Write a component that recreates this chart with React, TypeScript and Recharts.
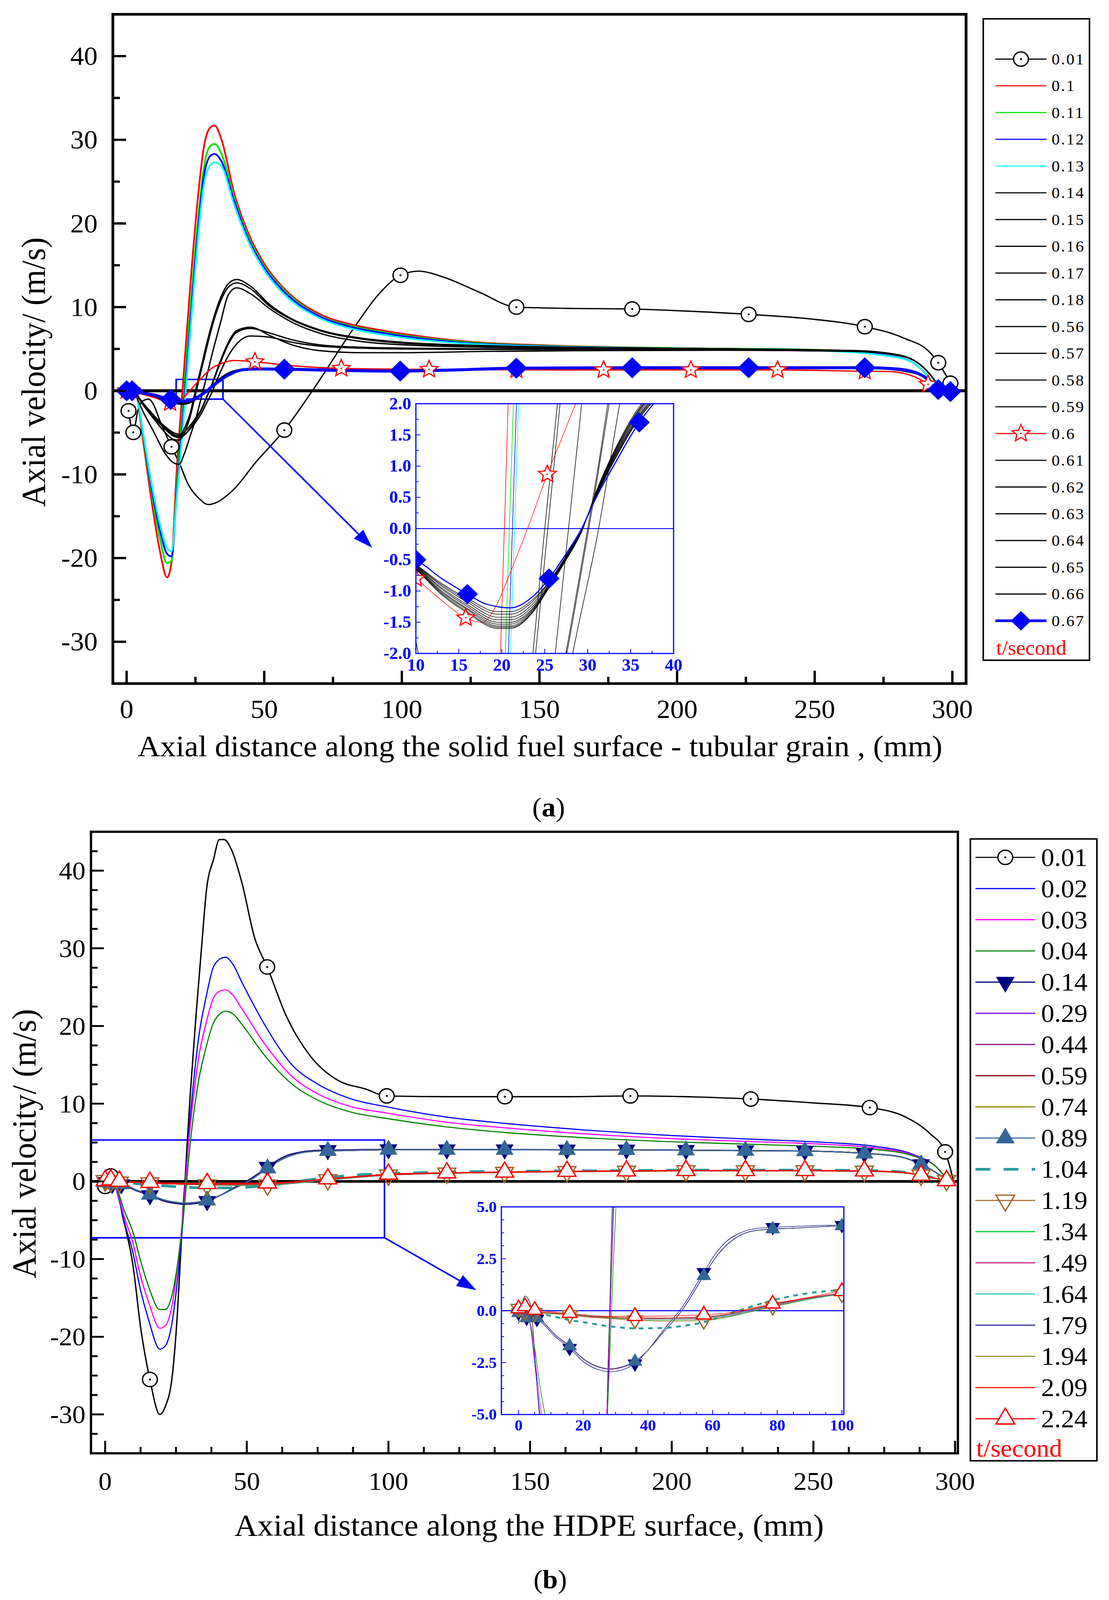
import React from "react";
import { LineChart, Line, XAxis, YAxis, ReferenceLine, ReferenceArea } from "recharts";

const SERIF = '"Liberation Serif", "Times New Roman", serif';
const BLUE = "#0000ff";

// ---------- panel (a): tubular grain ----------
const aX001 = [0.7, 2.45, 4, 6, 8, 10, 12, 16.3, 19.1, 22.4, 26.4, 29.7, 38.6, 46.8, 57.3, 67.5, 83.4, 91.5, 99.5, 106, 115, 128, 141.6, 160, 183.7, 205, 226, 248, 268.2, 282.4, 291.8, 294.9, 299.3];
const aY001 = [-2.4, -4.97, -2.5, -1.2, -1.0, -1.8, -3.5, -6.7, -8.6, -11.2, -12.9, -13.6, -11.9, -8.6, -4.7, 0, 7.9, 11.5, 13.8, 14.3, 13.6, 11.8, 10.0, 9.85, 9.77, 9.5, 9.13, 8.6, 7.66, 6.3, 4.6, 3.35, 0.9];
const aM001 = [0, 1, 7, 14, 18, 22, 24, 26, 28, 31, 32];

const aXE = [0, 2, 3.5, 6, 9, 12, 14.7, 16.3, 18.3, 20.3, 23, 26, 28, 30.5, 32, 34.5, 39, 44, 50, 57, 70, 82, 95, 120, 155, 200, 250, 277, 286, 291, 294, 296];
const aY010 = [0, 0, -0.5, -6, -13, -19, -22.3, -20.5, -9, 0, 12, 23.4, 29, 31.5, 31.7, 30, 23.7, 19, 15.2, 12.3, 9.2, 7.9, 7.1, 6.0, 5.4, 5.1, 4.9, 4.2, 3.3, 1.8, 0.6, 0];
const aY011 = [0, 0, -0.5, -5.5, -12, -17.5, -20.6, -20.3, -11, -2.5, 9, 20.5, 26.5, 29.3, 29.5, 28.3, 23.2, 18.6, 14.9, 12.1, 9.0, 7.7, 6.9, 5.9, 5.35, 5.1, 4.9, 4.2, 3.3, 1.8, 0.6, 0];
const aY012 = [0, 0, -0.5, -5.2, -11.5, -16.5, -19.5, -19.8, -12, -4, 7.5, 19.5, 25.5, 28.1, 28.3, 27.4, 22.8, 18.3, 14.7, 11.9, 8.9, 7.6, 6.8, 5.8, 5.3, 5.05, 4.85, 4.2, 3.3, 1.8, 0.6, 0];
const aY013 = [0, 0, -0.5, -5, -11, -15.8, -18.8, -19.2, -12.5, -5, 6.5, 18.5, 24.5, 27, 27.3, 26.8, 22.3, 18, 14.4, 11.6, 8.7, 7.4, 6.6, 5.7, 5.25, 5.0, 4.8, 4.15, 3.3, 1.8, 0.6, 0];

const aXM = [0, 3, 6, 10, 14, 17, 19, 21, 23, 25, 27, 29, 31, 34, 37, 40, 45, 52, 60, 70, 85, 100, 130, 170, 220, 265, 280, 288, 293, 296];
const aY014 = [0, -0.3, -1.5, -3, -4.5, -5.3, -5.5, -4.5, -2.8, 0, 2.7, 5.5, 8, 11, 12.8, 13.3, 12.5, 10.3, 8.6, 7.3, 6.3, 5.8, 5.4, 5.15, 5.0, 4.8, 4.3, 3.2, 1.5, 0];
const aY015 = [0, -0.3, -1.7, -3.4, -5, -5.8, -5.9, -5.0, -3.2, -0.5, 2.3, 5, 7.6, 10.6, 12.4, 12.9, 12.2, 10.1, 8.5, 7.2, 6.2, 5.7, 5.35, 5.1, 4.95, 4.75, 4.3, 3.2, 1.5, 0];
const aY016 = [0, -0.5, -2.5, -5, -7.5, -8.6, -8.8, -7.5, -5.5, -3.5, -1, 1.6, 4.3, 8, 11.5, 12.3, 11.6, 9.8, 8.2, 6.9, 5.9, 5.5, 5.2, 5.05, 4.9, 4.7, 4.25, 3.2, 1.5, 0];
const aY017 = [0, -0.3, -1.5, -3, -4.3, -5, -5.2, -4.9, -4.2, -3.3, -2.3, -0.8, 0.8, 3.5, 5.8, 7.2, 7.6, 6.6, 5.5, 4.8, 4.55, 4.55, 4.7, 4.8, 4.85, 4.7, 4.3, 3.2, 1.5, 0];
const aY018 = [0, -0.3, -1.6, -3.2, -4.6, -5.4, -5.6, -5.3, -4.5, -3.5, -2.4, -0.9, 0.7, 3.3, 5.6, 7.0, 7.45, 6.9, 6.1, 5.5, 5.2, 5.1, 5.0, 4.95, 4.9, 4.75, 4.3, 3.2, 1.5, 0];
const aY056 = [0, -0.3, -1.5, -3, -4.4, -5.2, -5.4, -5.2, -4.6, -3.8, -2.8, -1.5, -0.2, 2.2, 4.2, 5.6, 6.55, 6.4, 5.8, 5.35, 5.1, 5.0, 4.95, 4.9, 4.85, 4.7, 4.3, 3.2, 1.5, 0];

const aXL = [0, 2, 6, 10, 13, 16, 19.5, 21, 23.5, 25.5, 27.5, 29.3, 31, 33, 36, 40, 47, 60, 100, 150, 200, 268, 288, 295, 299];
const aY057 = [0, 0, -0.3, -0.58, -0.88, -1.12, -1.33, -1.33, -1.15, -0.85, -0.43, 0, 0.52, 1.06, 1.76, 2.3, 2.62, 2.62, 2.4, 2.72, 2.76, 2.74, 2.0, 0.2, 0];
const aY058 = [0, 0, -0.3, -0.59, -0.9, -1.15, -1.37, -1.37, -1.18, -0.86, -0.44, 0, 0.53, 1.08, 1.78, 2.32, 2.62, 2.62, 2.4, 2.72, 2.76, 2.74, 2.0, 0.2, 0];
const aY059 = [0, 0, -0.31, -0.6, -0.92, -1.18, -1.42, -1.42, -1.22, -0.88, -0.45, 0, 0.54, 1.1, 1.8, 2.34, 2.63, 2.62, 2.4, 2.72, 2.76, 2.74, 2.0, 0.2, 0];
const aY061 = [0, 0, -0.31, -0.61, -0.95, -1.22, -1.46, -1.46, -1.26, -0.9, -0.46, -0.01, 0.55, 1.12, 1.82, 2.36, 2.63, 2.62, 2.4, 2.72, 2.76, 2.74, 2.0, 0.2, 0];
const aY062 = [0, 0, -0.32, -0.62, -0.97, -1.25, -1.5, -1.5, -1.29, -0.91, -0.47, -0.02, 0.56, 1.14, 1.85, 2.38, 2.64, 2.62, 2.4, 2.72, 2.76, 2.74, 2.0, 0.2, 0];
const aY063 = [0, 0, -0.32, -0.63, -1.0, -1.28, -1.53, -1.53, -1.31, -0.92, -0.48, -0.03, 0.57, 1.16, 1.88, 2.4, 2.64, 2.62, 2.4, 2.72, 2.76, 2.74, 2.0, 0.2, 0];
const aY064 = [0, 0, -0.33, -0.64, -1.02, -1.3, -1.56, -1.56, -1.33, -0.93, -0.49, -0.04, 0.58, 1.18, 1.9, 2.42, 2.65, 2.62, 2.4, 2.72, 2.76, 2.74, 2.0, 0.2, 0];
const aY065 = [0, 0, -0.33, -0.65, -1.04, -1.33, -1.58, -1.58, -1.35, -0.94, -0.5, -0.05, 0.59, 1.2, 1.92, 2.44, 2.65, 2.62, 2.4, 2.72, 2.76, 2.74, 2.0, 0.2, 0];
const aY066 = [0, 0, -0.34, -0.66, -1.06, -1.35, -1.6, -1.6, -1.36, -0.95, -0.5, -0.05, 0.6, 1.22, 1.95, 2.46, 2.66, 2.62, 2.4, 2.72, 2.76, 2.74, 2.0, 0.2, 0];

const aX060 = [0, 1.7, 5, 10, 13, 15.8, 17.7, 19.3, 21, 23, 25.3, 27, 28.6, 31, 34, 38.9, 46.6, 60, 78, 109.9, 141.6, 173.3, 205, 236.5, 268.2, 277, 286.6, 291.2, 294, 298];
const aY060 = [0, 0, -0.35, -0.8, -1.15, -1.43, -1.5, -1.25, -0.7, 0, 0.87, 1.45, 2.0, 2.7, 3.2, 3.62, 3.46, 3.0, 2.67, 2.55, 2.5, 2.49, 2.49, 2.49, 2.33, 2.3, 1.63, 0.77, 0.1, 0];
const aM060 = [0, 1, 5, 16, 18, 19, 20, 21, 22, 23, 24, 27];
const aMi060 = [3, 5, 10];

const aX067 = [0, 2, 5, 8, 10, 13, 16, 18, 19.5, 21, 23.5, 25.5, 27.5, 29.3, 31, 33, 36, 38, 42, 47, 57.3, 75, 99.4, 120, 141.6, 183.7, 226, 268.2, 280, 288, 291, 294.9, 299.3];
const aY067 = [0, 0, -0.2, -0.4, -0.5, -0.8, -1.05, -1.2, -1.25, -1.27, -1.1, -0.8, -0.4, 0, 0.5, 1.0, 1.7, 2.05, 2.5, 2.6, 2.58, 2.45, 2.35, 2.5, 2.7, 2.75, 2.75, 2.75, 2.6, 2.0, 1.4, 0.15, -0.1];
const aM067 = [0, 1, 6, 20, 22, 24, 25, 26, 27, 31, 32];
const aMi067 = [4, 6, 11, 16];

const aXTicks = [0, 25, 50, 75, 100, 125, 150, 175, 200, 225, 250, 275, 300];
const aYTicks = [-30, -25, -20, -15, -10, -5, 0, 5, 10, 15, 20, 25, 30, 35, 40];
const aiXTicks = [10, 12.5, 15, 17.5, 20, 22.5, 25, 27.5, 30, 32.5, 35, 37.5, 40];
const aiYTicks = [-2, -1.75, -1.5, -1.25, -1, -0.75, -0.5, -0.25, 0, 0.25, 0.5, 0.75, 1, 1.25, 1.5, 1.75, 2];

// ---------- panel (b): HDPE ----------
const bX001 = [0, 2, 3.5, 5, 5.9, 7.5, 9.7, 12.6, 15.8, 19.3, 21.2, 23.7, 25.5, 27, 27.7, 28.2, 28.8, 30, 32, 34, 35.8, 38.3, 40.3, 42, 44.7, 48.3, 52.8, 57.2, 63.8, 72.5, 82.2, 91.8, 99.4, 120, 141.1, 163, 185.4, 205, 227.9, 250, 269.9, 283, 291, 296.5, 299.5];
const bY001 = [-0.65, 0.7, 0.4, -2, -4, -6.5, -10.5, -19, -25.5, -30, -29, -25, -17, -7, -2.5, 0, 4, 11, 21, 30, 37.6, 41.5, 44, 44, 42.6, 38.4, 31.3, 27.6, 21.4, 16.1, 13.0, 11.9, 11.0, 10.9, 10.9, 10.9, 11.0, 10.9, 10.6, 10.1, 9.5, 8.2, 6.2, 3.8, 0];
const bM001 = [0, 1, 8, 27, 32, 34, 36, 38, 40, 43];

const bXE = [0, 3, 5, 6.6, 9.7, 12.5, 15.4, 19.3, 21.2, 23.7, 26, 27.5, 28.4, 29.3, 31, 33, 35.8, 38, 40, 42.5, 45, 48.3, 56.1, 65.7, 75.4, 87, 99.4, 120.8, 141, 170, 200, 230, 255, 272, 285, 293, 297, 300];
const bY002 = [0, -0.3, -2.5, -5, -9, -14, -17.9, -21.6, -21.2, -18, -11, -5, 0, 5, 12, 18.5, 24, 27.4, 28.5, 28.85, 28, 25.6, 20.3, 15.1, 12.45, 10.6, 9.6, 8.26, 7.47, 6.6, 5.9, 5.4, 5.0, 4.5, 3.5, 2.0, 0.5, 0];
const bY003 = [0, -0.3, -2.2, -4.4, -7.8, -12.2, -15.6, -18.9, -18.6, -15.8, -9.5, -4.2, 0, 4.3, 10.3, 15.9, 20.6, 23.4, 24.4, 24.66, 24, 22.2, 17.8, 13.6, 11.2, 9.6, 8.8, 7.6, 6.9, 6.1, 5.5, 5.1, 4.75, 4.3, 3.4, 2.0, 0.5, 0];
const bY004 = [0, -0.3, -1.8, -3.6, -6.4, -10.2, -13.6, -16.5, -16.5, -14.5, -9.5, -5, -1.5, 2.2, 8, 13, 17.5, 20.2, 21.4, 21.9, 21.6, 20.2, 16.3, 12.6, 10.4, 8.9, 8.1, 7.0, 6.3, 5.6, 5.1, 4.75, 4.45, 4.1, 3.3, 2.0, 0.5, 0];

const bXM = [0, 2.5, 5.7, 8, 11, 15.8, 20, 24, 28.5, 32, 36, 40, 45, 50.5, 57.3, 60.7, 64, 68.6, 73, 78.6, 84.3, 92, 100, 120.6, 141, 163, 184, 205, 226, 247, 268, 280, 288, 293, 297, 300];
const bY014 = [-0.1, -0.35, -0.4, -0.7, -1.2, -1.8, -2.45, -2.8, -2.94, -2.85, -2.55, -1.9, -0.9, 0.15, 1.85, 2.7, 3.3, 3.75, 3.95, 4.02, 4.05, 4.1, 4.12, 4.1, 4.1, 4.08, 4.08, 4.03, 3.98, 3.92, 3.62, 3.22, 2.2, 1.2, 0.3, 0];
const bY029 = [-0.1, -0.35, -0.36, -0.62, -1.12, -1.72, -2.33, -2.68, -2.82, -2.73, -2.47, -1.91, -1.0, 0.02, 1.7, 2.52, 3.12, 3.64, 3.86, 3.94, 3.97, 4.04, 4.08, 4.07, 4.07, 4.05, 4.05, 4.0, 3.95, 3.9, 3.6, 3.2, 2.2, 1.2, 0.3, 0];
const bY044 = [-0.1, -0.35, -0.36, -0.61, -1.11, -1.71, -2.32, -2.67, -2.81, -2.72, -2.46, -1.9, -1.0, 0.01, 1.69, 2.51, 3.11, 3.64, 3.86, 3.94, 3.97, 4.03, 4.08, 4.07, 4.07, 4.05, 4.05, 4.0, 3.95, 3.9, 3.6, 3.2, 2.2, 1.2, 0.3, 0];
const bY059 = [-0.1, -0.35, -0.35, -0.6, -1.1, -1.7, -2.31, -2.66, -2.8, -2.71, -2.45, -1.9, -1.0, 0, 1.68, 2.5, 3.1, 3.63, 3.85, 3.93, 3.96, 4.03, 4.08, 4.07, 4.07, 4.05, 4.05, 4.0, 3.95, 3.9, 3.6, 3.2, 2.2, 1.2, 0.3, 0];
const bY074 = [-0.1, -0.35, -0.35, -0.6, -1.1, -1.7, -2.3, -2.65, -2.8, -2.7, -2.45, -1.9, -1.0, 0, 1.68, 2.5, 3.1, 3.63, 3.85, 3.93, 3.96, 4.03, 4.08, 4.07, 4.07, 4.05, 4.05, 4.0, 3.95, 3.9, 3.6, 3.2, 2.2, 1.2, 0.3, 0];
const bY089 = [-0.1, -0.35, -0.35, -0.6, -1.1, -1.7, -2.3, -2.65, -2.79, -2.7, -2.45, -1.9, -1.0, 0, 1.68, 2.5, 3.1, 3.63, 3.85, 3.93, 3.96, 4.03, 4.08, 4.07, 4.07, 4.05, 4.05, 4.0, 3.95, 3.9, 3.6, 3.2, 2.2, 1.2, 0.3, 0];
const bMM = [0, 1, 2, 5, 10, 14, 19, 22, 23, 24, 25, 26, 27, 28, 29, 30, 32];
const bMiM = [0, 1, 2, 5, 10, 14, 19, 22];

const bXL = [0, 2, 5, 10, 15.8, 20, 28, 36, 45, 50, 57.3, 65, 70, 78.6, 90, 100, 120.6, 141, 163, 184, 205, 226, 247, 268, 280, 288, 293, 297, 300];
const bY104 = [0, -0.05, -0.1, -0.25, -0.45, -0.55, -0.75, -0.85, -0.83, -0.75, -0.55, -0.15, 0.1, 0.5, 0.85, 1.0, 1.2, 1.3, 1.35, 1.4, 1.45, 1.45, 1.45, 1.4, 1.25, 0.85, 0.4, 0.1, 0];
const bY119 = [0.1, -0.05, -0.1, -0.15, -0.2, -0.28, -0.38, -0.45, -0.5, -0.5, -0.48, -0.3, -0.12, 0.2, 0.55, 0.8, 1.05, 1.15, 1.25, 1.3, 1.35, 1.35, 1.35, 1.3, 1.15, 0.8, 0.4, 0.1, 0];
const bY134 = [0.05, -0.05, -0.08, -0.13, -0.18, -0.25, -0.35, -0.42, -0.45, -0.45, -0.42, -0.28, -0.12, 0.18, 0.55, 0.8, 1.05, 1.16, 1.26, 1.31, 1.36, 1.36, 1.36, 1.31, 1.16, 0.8, 0.4, 0.1, 0];
const bY149 = [0.05, 0, -0.06, -0.11, -0.17, -0.23, -0.32, -0.38, -0.4, -0.4, -0.37, -0.24, -0.08, 0.22, 0.58, 0.82, 1.06, 1.17, 1.27, 1.32, 1.37, 1.37, 1.37, 1.32, 1.17, 0.8, 0.4, 0.1, 0];
const bY164 = [0.05, 0, -0.05, -0.1, -0.16, -0.22, -0.31, -0.36, -0.38, -0.37, -0.34, -0.21, -0.05, 0.25, 0.6, 0.83, 1.07, 1.18, 1.28, 1.33, 1.38, 1.38, 1.38, 1.33, 1.18, 0.8, 0.4, 0.1, 0];
const bY179 = [0.05, 0.02, -0.05, -0.1, -0.15, -0.21, -0.3, -0.35, -0.37, -0.35, -0.32, -0.18, -0.02, 0.27, 0.61, 0.84, 1.08, 1.18, 1.28, 1.33, 1.38, 1.38, 1.38, 1.33, 1.18, 0.8, 0.4, 0.1, 0];
const bY194 = [0.05, 0.03, -0.05, -0.1, -0.15, -0.21, -0.3, -0.34, -0.36, -0.34, -0.31, -0.17, 0, 0.29, 0.62, 0.85, 1.08, 1.19, 1.29, 1.34, 1.39, 1.39, 1.39, 1.34, 1.19, 0.8, 0.4, 0.1, 0];
const bY209 = [0.05, 0.05, -0.05, -0.1, -0.2, -0.28, -0.33, -0.35, -0.35, -0.33, -0.3, -0.15, 0.0, 0.3, 0.62, 0.85, 1.08, 1.18, 1.28, 1.33, 1.38, 1.38, 1.38, 1.33, 1.18, 0.8, 0.4, 0.1, 0];
const bY224 = [0.1, 0.2, 0.03, -0.05, -0.12, -0.2, -0.27, -0.27, -0.26, -0.24, -0.2, -0.1, 0.05, 0.33, 0.65, 0.93, 1.1, 1.2, 1.3, 1.35, 1.4, 1.4, 1.4, 1.35, 1.2, 0.8, 0.4, 0.1, 0];
const bML = [0, 1, 2, 4, 7, 10, 13, 15, 16, 17, 18, 19, 20, 21, 22, 23, 25, 27];
const bMiL = [0, 1, 2, 4, 7, 10, 13, 15];

const bXTicks = [0, 12.5, 25, 37.5, 50, 62.5, 75, 87.5, 100, 112.5, 125, 137.5, 150, 162.5, 175, 187.5, 200, 212.5, 225, 237.5, 250, 262.5, 275, 287.5, 300];
const bYTicks = [-32.5, -30, -27.5, -25, -22.5, -20, -17.5, -15, -12.5, -10, -7.5, -5, -2.5, 0, 2.5, 5, 7.5, 10, 12.5, 15, 17.5, 20, 22.5, 25, 27.5, 30, 32.5, 35, 37.5, 40, 42.5];
const biXTicks = [0, 5, 10, 15, 20, 25, 30, 35, 40, 45, 50, 55, 60, 65, 70, 75, 80, 85, 90, 95, 100];
const biYTicks = [-5, -4.375, -3.75, -3.125, -2.5, -1.875, -1.25, -0.625, 0, 0.625, 1.25, 1.875, 2.5, 3.125, 3.75, 4.375, 5];

// ---------- styling ----------
type Kind = "circle" | "star" | "diamond" | "triUp" | "triDown" | "triUpOpen" | "triDownOpen";
type Series = {
  name: string; xs: number[]; ys: number[]; color: string;
  w: number; iw: number; lw: number; dash?: string; idash?: string;
  kind?: Kind; ms?: number; ims?: number; ls?: number; marks?: number[]; imarks?: number[];
};

const blk = (name: string, xs: number[], ys: number[]): Series => ({ name, xs, ys, color: "#000", w: 3.5, iw: 1.5, lw: 3 });

const aSeries: Series[] = [
  { name: "0.01", xs: aX001, ys: aY001, color: "#000", w: 3.5, iw: 1.5, lw: 3, kind: "circle", ms: 19, ls: 19, marks: aM001 },
  { name: "0.1", xs: aXE, ys: aY010, color: "#ff0000", w: 4.5, iw: 1.5, lw: 3 },
  { name: "0.11", xs: aXE, ys: aY011, color: "#00e000", w: 4.5, iw: 1.5, lw: 3 },
  { name: "0.12", xs: aXE, ys: aY012, color: "#0000ff", w: 4.5, iw: 1.5, lw: 3 },
  { name: "0.13", xs: aXE, ys: aY013, color: "#00ffff", w: 4.5, iw: 1.5, lw: 3 },
  blk("0.14", aXM, aY014), blk("0.15", aXM, aY015), blk("0.16", aXM, aY016),
  blk("0.17", aXM, aY017), blk("0.18", aXM, aY018), blk("0.56", aXM, aY056),
  blk("0.57", aXL, aY057), blk("0.58", aXL, aY058), blk("0.59", aXL, aY059),
  { name: "0.6", xs: aX060, ys: aY060, color: "#ff0000", w: 3.5, iw: 1.4, lw: 3, kind: "star", ms: 24, ims: 24, ls: 24, marks: aM060, imarks: aMi060 },
  blk("0.61", aXL, aY061), blk("0.62", aXL, aY062), blk("0.63", aXL, aY063),
  blk("0.64", aXL, aY064), blk("0.65", aXL, aY065), blk("0.66", aXL, aY066),
  { name: "0.67", xs: aX067, ys: aY067, color: BLUE, w: 8, iw: 3, lw: 7, kind: "diamond", ms: 28, ims: 27, ls: 26, marks: aM067, imarks: aMi067 },
];

const thin = (name: string, xs: number[], ys: number[], color: string): Series => ({ name, xs, ys, color, w: 3, iw: 1.4, lw: 3 });

const bSeries: Series[] = [
  { name: "0.01", xs: bX001, ys: bY001, color: "#000", w: 3.5, iw: 1.4, lw: 3, kind: "circle", ms: 19, ls: 19, marks: bM001 },
  thin("0.02", bXE, bY002, "#0000ff"),
  thin("0.03", bXE, bY003, "#ff00ff"),
  thin("0.04", bXE, bY004, "#008000"),
  { name: "0.14", xs: bXM, ys: bY014, color: "#000080", w: 3, iw: 1.4, lw: 3, kind: "triDown", ms: 23, ims: 19, ls: 24, marks: bMM, imarks: bMiM },
  thin("0.29", bXM, bY029, "#8000ff"),
  thin("0.44", bXM, bY044, "#800080"),
  thin("0.59", bXM, bY059, "#800000"),
  thin("0.74", bXM, bY074, "#808000"),
  { name: "0.89", xs: bXM, ys: bY089, color: "#336699", w: 3, iw: 1.4, lw: 3, kind: "triUp", ms: 23, ims: 19, ls: 24, marks: bMM, imarks: bMiM },
  { name: "1.04", xs: bXL, ys: bY104, color: "#229c9c", w: 7, iw: 5, lw: 7, dash: "38 34", idash: "12 12" },
  { name: "1.19", xs: bXL, ys: bY119, color: "#a0682a", w: 3, iw: 1.4, lw: 3, kind: "triDownOpen", ms: 23, ims: 19, ls: 24, marks: bML, imarks: bMiL },
  thin("1.34", bXL, bY134, "#00cc33"),
  thin("1.49", bXL, bY149, "#cc2288"),
  thin("1.64", bXL, bY164, "#22c4c4"),
  thin("1.79", bXL, bY179, "#333399"),
  thin("1.94", bXL, bY194, "#999933"),
  thin("2.09", bXL, bY209, "#ff0000"),
  { name: "2.24", xs: bXL, ys: bY224, color: "#ff0000", w: 3, iw: 1.4, lw: 3, kind: "triUpOpen", ms: 23, ims: 19, ls: 24, marks: bML, imarks: bMiL },
];

// ---------- drawing helpers ----------
const pts = (xs: number[], ys: number[]) => xs.map((x, i) => ({ x, y: ys[i] }));

function Marker({ kind, cx, cy, s, color }: { kind: Kind; cx: number; cy: number; s: number; color: string }) {
  if (kind === "circle") {
    return (
      <g>
        <circle cx={cx} cy={cy} r={s} fill="#fff" stroke={color} strokeWidth={3.5} />
        <circle cx={cx} cy={cy} r={2.6} fill={color} />
      </g>
    );
  }
  if (kind === "diamond") {
    return <polygon points={`${cx},${cy - s} ${cx + s},${cy} ${cx},${cy + s} ${cx - s},${cy}`} fill={color} />;
  }
  if (kind === "star") {
    const p: string[] = [];
    for (let k = 0; k < 10; k++) {
      const r = k % 2 === 0 ? s : s * 0.45;
      const a = -Math.PI / 2 + (k * Math.PI) / 5;
      p.push(`${cx + r * Math.cos(a)},${cy + r * Math.sin(a)}`);
    }
    return (
      <g>
        <polygon points={p.join(" ")} fill="#fff" stroke={color} strokeWidth={3} />
        <circle cx={cx} cy={cy} r={2.2} fill={color} />
      </g>
    );
  }
  const h = s * 1.75;
  const up = kind === "triUp" || kind === "triUpOpen";
  const ay = up ? cy - (h * 2) / 3 : cy + (h * 2) / 3;
  const by = up ? cy + h / 3 : cy - h / 3;
  const open = kind === "triUpOpen" || kind === "triDownOpen";
  const fill = !open ? color : kind === "triUpOpen" ? "#fff" : "none";
  return <polygon points={`${cx},${ay} ${cx + s},${by} ${cx - s},${by}`} fill={fill} stroke={color} strokeWidth={open ? 3.5 : 0} />;
}

function seriesLines(list: Series[], inset: boolean) {
  return list.map((s) => {
    const marks = inset ? s.imarks : s.marks;
    const size = (inset ? s.ims : s.ms) ?? 20;
    const dot = s.kind && marks
      ? (p: any) =>
          marks.includes(p.index) && Number.isFinite(p.cx) && Number.isFinite(p.cy)
            ? <Marker key={`m${p.index}`} kind={s.kind as Kind} cx={p.cx} cy={p.cy} s={size} color={s.color} />
            : <g key={`m${p.index}`} />
      : false;
    return (
      <Line
        key={s.name}
        name={s.name}
        data={pts(s.xs, s.ys)}
        dataKey="y"
        type="monotone"
        stroke={s.color}
        strokeWidth={inset ? s.iw : s.w}
        strokeDasharray={inset ? s.idash : s.dash}
        dot={dot}
        activeDot={false}
        isAnimationActive={false}
      />
    );
  });
}

type TickStyle = { color: string; font: number; major: number; minor: number; sw: number; gap: number; step: number; digits: number; bold?: boolean };
const isMajor = (v: number, step: number) => Math.abs(v / step - Math.round(v / step)) < 1e-6;

const yTickFn = (st: TickStyle) => (p: any) => {
  const v = Number(p.payload.value);
  const M = isMajor(v, st.step);
  return (
    <g>
      <line x1={p.x} x2={p.x + (M ? st.major : st.minor)} y1={p.y} y2={p.y} stroke={st.color} strokeWidth={st.sw} />
      {M && (
        <text x={p.x - st.gap} y={p.y} textAnchor="end" dominantBaseline="central" fontSize={st.font} fontFamily={SERIF} fontWeight={st.bold ? "bold" : "normal"} fill={st.color}>
          {v.toFixed(st.digits)}
        </text>
      )}
    </g>
  );
};

const xTickFn = (st: TickStyle) => (p: any) => {
  const v = Number(p.payload.value);
  const M = isMajor(v, st.step);
  return (
    <g>
      <line x1={p.x} x2={p.x} y1={p.y} y2={p.y - (M ? st.major : st.minor)} stroke={st.color} strokeWidth={st.sw} />
      {M && (
        <text x={p.x} y={p.y + st.gap} textAnchor="middle" dominantBaseline="central" fontSize={st.font} fontFamily={SERIF} fontWeight={st.bold ? "bold" : "normal"} fill={st.color}>
          {v.toFixed(st.digits)}
        </text>
      )}
    </g>
  );
};

const arrowShape = (p: any) => {
  const { x1, y1, x2, y2 } = p;
  if (![x1, y1, x2, y2].every((n) => Number.isFinite(n))) return <g />;
  const a = Math.atan2(y2 - y1, x2 - x1);
  const L = 50, W = 17;
  const bx = x2 - L * Math.cos(a), by = y2 - L * Math.sin(a);
  const px = -Math.sin(a) * W, py = Math.cos(a) * W;
  return (
    <g>
      <line x1={x1} y1={y1} x2={bx} y2={by} stroke={BLUE} strokeWidth={4} />
      <polygon points={`${x2},${y2} ${bx + px},${by + py} ${bx - px},${by - py}`} fill={BLUE} />
    </g>
  );
};

type Box = { x: number; y: number; w: number; h: number };

function Plot(props: {
  plot: Box; yw: number; xh: number; pad: number; padR: number;
  xDomain: [number, number]; yDomain: [number, number];
  xTicks: number[]; yTicks: number[]; xStyle: TickStyle; yStyle: TickStyle;
  children: React.ReactNode;
}) {
  const { plot, yw, xh, pad, padR } = props;
  return (
    <div style={{ position: "absolute", left: plot.x - yw, top: plot.y - pad }}>
      <LineChart width={yw + plot.w + padR} height={pad + plot.h + xh} margin={{ top: pad, right: padR, bottom: 0, left: 0 }}>
        <XAxis type="number" dataKey="x" domain={props.xDomain} ticks={props.xTicks} interval={0} tickSize={0} tickMargin={0}
          axisLine={false} tickLine={false} tick={xTickFn(props.xStyle)} height={xh} allowDataOverflow />
        <YAxis type="number" domain={props.yDomain} ticks={props.yTicks} interval={0} tickSize={0} tickMargin={0}
          axisLine={false} tickLine={false} tick={yTickFn(props.yStyle)} width={yw} allowDataOverflow />
        {props.children}
      </LineChart>
    </div>
  );
}

function Legend(props: { box: Box; bw: number; items: Series[]; y0: number; dy: number; l1: number; l2: number; tx: number; font: number; noteX: number; noteY: number; noteFont: number; spacing?: number }) {
  const { box, items } = props;
  const cx = (props.l1 + props.l2) / 2;
  return (
    <g>
      <rect x={box.x} y={box.y} width={box.w} height={box.h} fill="#fff" stroke="#000" strokeWidth={props.bw} />
      {items.map((s, i) => {
        const cy = props.y0 + i * props.dy;
        return (
          <g key={s.name}>
            <line x1={props.l1} x2={props.l2} y1={cy} y2={cy} stroke={s.color} strokeWidth={s.lw} strokeDasharray={s.dash} />
            {s.kind && <Marker kind={s.kind} cx={cx} cy={cy} s={s.ls ?? 20} color={s.color} />}
            <text x={props.tx} y={cy} dominantBaseline="central" fontSize={props.font} fontFamily={SERIF} letterSpacing={props.spacing ?? 0} fill="#000">{s.name}</text>
          </g>
        );
      })}
      <text x={props.noteX} y={props.noteY} dominantBaseline="central" fontSize={props.noteFont} fontFamily={SERIF} fill="#ff0000">t/second</text>
    </g>
  );
}

// ---------- layout (in reference pixels; the whole figure is fitted to the viewport height) ----------
const FIG_W = 2840;
const FIG_H = 4253;
const aPlot: Box = { x: 289, y: 38, w: 2185, h: 1779 };
const aInset: Box = { x: 1065, y: 1073, w: 660, h: 664 };
const bPlot: Box = { x: 233, y: 2211, w: 2220, h: 1652 };
const bInset: Box = { x: 1284, y: 3208, w: 877, h: 552 };

const aXS: TickStyle = { color: "#000", font: 70, major: 34, minor: 18, sw: 6, gap: 68, step: 50, digits: 0 };
const aYS: TickStyle = { color: "#000", font: 70, major: 34, minor: 18, sw: 6, gap: 39, step: 10, digits: 0 };
const aiXS: TickStyle = { color: BLUE, font: 45, major: 12, minor: 7, sw: 2, gap: 31, step: 5, digits: 0, bold: true };
const aiYS: TickStyle = { color: BLUE, font: 45, major: 12, minor: 7, sw: 2, gap: 12, step: 0.5, digits: 1, bold: true };
const bXS: TickStyle = { color: "#000", font: 68, major: 33, minor: 17, sw: 5, gap: 74, step: 50, digits: 0 };
const bYS: TickStyle = { color: "#000", font: 68, major: 33, minor: 17, sw: 5, gap: 14, step: 10, digits: 0 };
const biXS: TickStyle = { color: BLUE, font: 41, major: 12, minor: 7, sw: 2, gap: 29, step: 20, digits: 0, bold: true };
const biYS: TickStyle = { color: BLUE, font: 41, major: 12, minor: 7, sw: 2, gap: 12, step: 2.5, digits: 1, bold: true };

export default function App() {
  const vh = typeof window !== "undefined" && window.innerHeight > 0 ? window.innerHeight : FIG_H;
  const sy = Math.min(1, vh / FIG_H);
  return (
    <div style={{ position: "absolute", left: 0, top: 0, width: FIG_W, height: Math.floor(FIG_H * sy), overflow: "hidden", background: "#fff" }}>
      <div style={{ position: "absolute", left: 0, top: 0, width: FIG_W, height: FIG_H, transform: `scale(1, ${sy})`, transformOrigin: "0 0" }}>
        <Plot plot={aPlot} yw={200} xh={150} pad={20} padR={90} xDomain={[-5, 305]} yDomain={[-35, 45]} xTicks={aXTicks} yTicks={aYTicks} xStyle={aXS} yStyle={aYS}>
          <ReferenceLine y={0} stroke="#000" strokeWidth={8} />
          {seriesLines(aSeries, false)}
          <ReferenceArea x1={18} x2={35} y1={-1} y2={1.35} fill="none" fillOpacity={0} stroke={BLUE} strokeWidth={4} ifOverflow="visible" />
          <ReferenceLine segment={[{ x: 35, y: -1 }, { x: 89.2, y: -18.75 }]} stroke={BLUE} strokeWidth={4} ifOverflow="visible" shape={arrowShape} />
        </Plot>

        <Plot plot={bPlot} yw={200} xh={150} pad={20} padR={90} xDomain={[-5, 301]} yDomain={[-35, 45]} xTicks={bXTicks} yTicks={bYTicks} xStyle={bXS} yStyle={bYS}>
          <ReferenceLine y={0} stroke="#000" strokeWidth={7} />
          {seriesLines(bSeries, false)}
          <ReferenceArea x1={-5} x2={98.6} y1={-7.26} y2={5.33} fill="none" fillOpacity={0} stroke={BLUE} strokeWidth={4} ifOverflow="visible" />
          <ReferenceLine segment={[{ x: 98.6, y: -7.26 }, { x: 131, y: -14 }]} stroke={BLUE} strokeWidth={4} ifOverflow="visible" shape={arrowShape} />
        </Plot>

        <div style={{ position: "absolute", left: aInset.x, top: aInset.y, width: aInset.w, height: aInset.h, background: "#fff" }} />
        <div style={{ position: "absolute", left: bInset.x, top: bInset.y, width: bInset.w, height: bInset.h, background: "#fff" }} />

        <Plot plot={aInset} yw={110} xh={70} pad={45} padR={45} xDomain={[10, 40]} yDomain={[-2, 2]} xTicks={aiXTicks} yTicks={aiYTicks} xStyle={aiXS} yStyle={aiYS}>
          <ReferenceLine y={0} stroke={BLUE} strokeWidth={2.5} />
          {seriesLines(aSeries, true)}
        </Plot>

        <Plot plot={bInset} yw={110} xh={70} pad={45} padR={50} xDomain={[-5.3, 100.6]} yDomain={[-5, 5]} xTicks={biXTicks} yTicks={biYTicks} xStyle={biXS} yStyle={biYS}>
          <ReferenceLine y={0} stroke={BLUE} strokeWidth={3} />
          {seriesLines(bSeries, true)}
        </Plot>

        <svg width={FIG_W} height={FIG_H} style={{ position: "absolute", left: 0, top: 0, pointerEvents: "none" }}>
          <rect x={aPlot.x} y={aPlot.y} width={aPlot.w} height={aPlot.h} fill="none" stroke="#000" strokeWidth={7} />
          <rect x={bPlot.x} y={bPlot.y} width={bPlot.w} height={bPlot.h} fill="none" stroke="#000" strokeWidth={6} />
          <rect x={aInset.x} y={aInset.y} width={aInset.w} height={aInset.h} fill="none" stroke={BLUE} strokeWidth={3} />
          <rect x={bInset.x} y={bInset.y} width={bInset.w} height={bInset.h} fill="none" stroke={BLUE} strokeWidth={3} />

          <Legend box={{ x: 2518, y: 50, w: 272, h: 1705 }} bw={4} items={aSeries} y0={157} dy={71.1}
            l1={2549} l2={2680} tx={2693} font={42} spacing={3} noteX={2551} noteY={1722} noteFont={54} />
          <Legend box={{ x: 2485, y: 2230, w: 324, h: 1653 }} bw={4} items={bSeries} y0={2279} dy={82.9}
            l1={2498} l2={2651} tx={2666} font={68} noteX={2500} noteY={3850} noteFont={66} />

          <text x={1383} y={2010} textAnchor="middle" fontSize={80} fontFamily={SERIF}>Axial distance along the solid fuel surface - tubular grain , (mm)</text>
          <text transform="translate(86,989) rotate(-90)" textAnchor="middle" dominantBaseline="central" fontSize={86} fontFamily={SERIF}>Axial velocity/ (m/s)</text>
          <text x={1405} y={2170} textAnchor="middle" fontSize={72} fontFamily={SERIF}>(<tspan fontWeight="bold">a</tspan>)</text>

          <text x={1355} y={4082} textAnchor="middle" fontSize={82} fontFamily={SERIF}>Axial distance along the HDPE surface, (mm)</text>
          <text transform="translate(62,3040) rotate(-90)" textAnchor="middle" dominantBaseline="central" fontSize={86} fontFamily={SERIF}>Axial velocity/ (m/s)</text>
          <text x={1409} y={4222} textAnchor="middle" fontSize={70} fontFamily={SERIF}>(<tspan fontWeight="bold">b</tspan>)</text>
        </svg>
      </div>
    </div>
  );
}
